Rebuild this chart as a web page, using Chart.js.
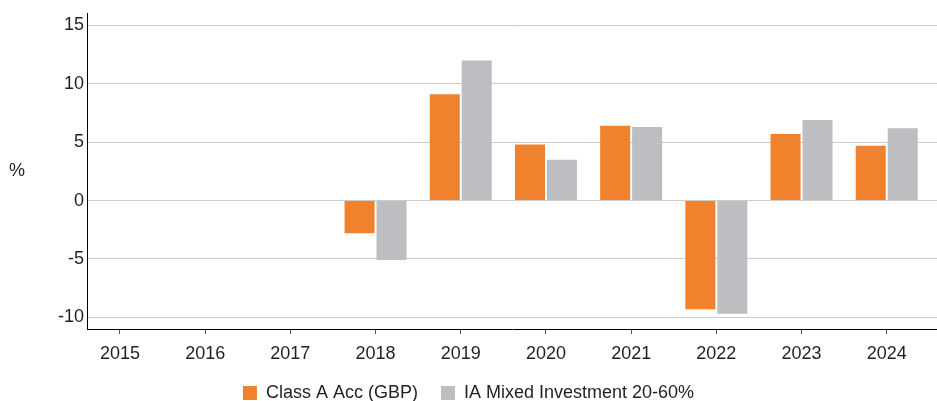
<!DOCTYPE html>
<html>
<head>
<meta charset="utf-8">
<script src="https://cdn.jsdelivr.net/npm/chart.js@4.4.1/dist/chart.umd.min.js"></script>
<style>
  html, body { margin: 0; padding: 0; background: #fff; }
  #wrap { width: 937px; height: 401px; }
</style>
</head>
<body>
<div id="wrap"><canvas id="myChart"></canvas></div>
<script>
// valeurs (%)
const years = [2015, 2016, 2017, 2018, 2019, 2020, 2021, 2022, 2023, 2024];
const classA = [null, null, null, -2.8, 9.1, 4.8, 6.4, -9.3, 5.7, 4.7];
const sector = [null, null, null, -5.1, 12.0, 3.5, 6.3, -9.7, 6.9, 6.2];
const yTicks = [-10, -5, 0, 5, 10, 15];

const seriesNames = ['Class A Acc (GBP)', 'IA Mixed Investment 20-60%'];
const txt = '#231f20';
const fontFamily = '"Liberation Sans", Arial, sans-serif';

// le "%" horizontal a gauche de l'axe
const percentLabel = {
  id: 'percentLabel',
  afterDraw(chart) {
    const c = chart.ctx;
    const a = chart.chartArea;
    c.save();
    c.font = '18px ' + fontFamily;
    c.fillStyle = txt;
    c.textAlign = 'center';
    c.textBaseline = 'middle';
    c.fillText('%', 17, (a.top + a.bottom) / 2);
    c.restore();
  }
};

function toPoints(vals) {
  return years.map((y, i) => ({ x: y, y: vals[i] }));
}

const ctx = document.getElementById('myChart');
new Chart(ctx, {
  type: 'bar',
  data: {
    datasets: [{
      label: seriesNames[0],
      data: toPoints(classA),
      backgroundColor: '#f0812d',
      categoryPercentage: 0.75,
      barPercentage: 0.94
    }, {
      label: seriesNames[1],
      data: toPoints(sector),
      backgroundColor: '#bdbec1',
      categoryPercentage: 0.75,
      barPercentage: 0.94
    }]
  },
  options: {
    responsive: true,
    maintainAspectRatio: false,
    animation: false,
    layout: { padding: { top: 10, right: 0, left: 0, bottom: -11 } },
    scales: {
      x: {
        type: 'linear',
        offset: false,
        min: 2014.613,
        max: 2024.59,
        afterBuildTicks: s => { s.ticks = years.map(v => ({ value: v })); },
        afterFit: s => { s.height = 32; },
        border: { display: true, color: '#000', width: 1 },
        grid: { offset: false, drawOnChartArea: false, drawTicks: true, tickLength: 5, color: '#555' },
        ticks: {
          callback: v => String(v),
          color: txt,
          font: { family: fontFamily, size: 18 },
          padding: 9,
          maxRotation: 0
        }
      },
      y: {
        min: -11,
        max: 16,
        afterBuildTicks: s => { s.ticks = yTicks.map(v => ({ value: v })); },
        afterFit: s => { s.width = 87; },
        border: { display: true, color: '#000', width: 1 },
        grid: { color: '#cccccc', drawTicks: false },
        ticks: {
          color: txt,
          font: { family: fontFamily, size: 18 },
          padding: 3
        }
      }
    },
    plugins: {
      legend: {
        position: 'bottom',
        labels: {
          boxWidth: 14,
          boxHeight: 14,
          padding: 23,
          color: txt,
          font: { family: fontFamily, size: 18 }
        }
      },
      tooltip: { enabled: false }
    }
  },
  plugins: [percentLabel]
});
</script>
</body>
</html>
